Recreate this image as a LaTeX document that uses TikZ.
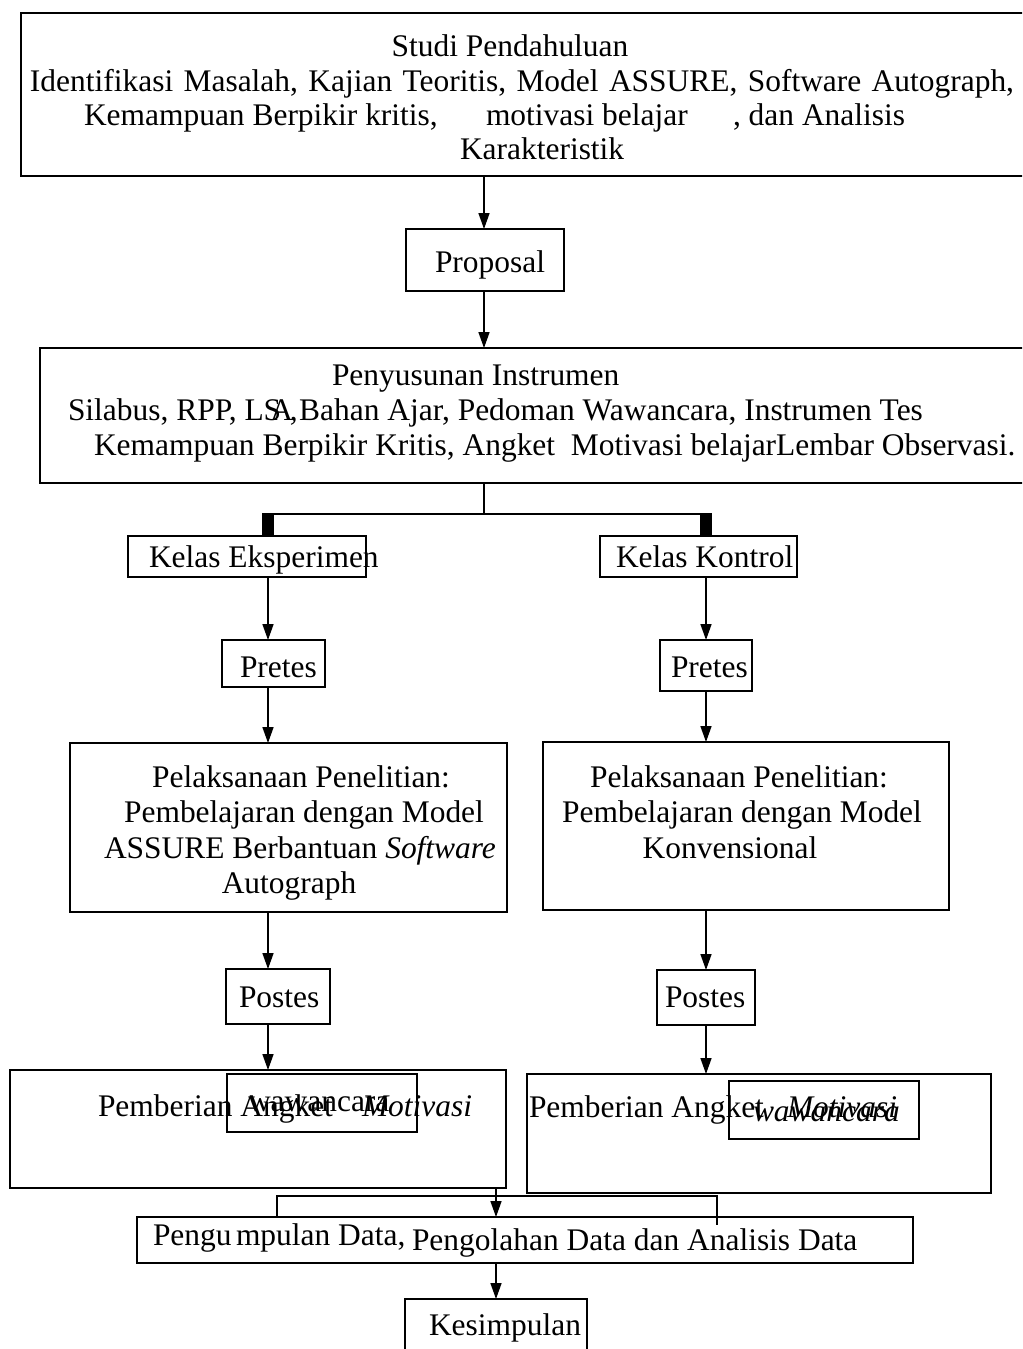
\documentclass[tikz,border=0pt]{standalone}
\usepackage{fontspec}
\setmainfont{Liberation Serif}
\usetikzlibrary{arrows.meta}
\newcommand\pxbox[5]{\node[box, minimum width=#4*0.02cm, minimum height=#5*0.02cm, anchor=north west] (#1) at (#2,#3) {};}
\begin{document}
\begin{tikzpicture}[x=0.02cm,y=-0.02cm,
  box/.style={draw, line width=1.2pt, rectangle, inner sep=0, outer sep=0},
  txt/.style={inner sep=0, outer sep=0, anchor=base west, font=\fontsize{17.9}{19}\selectfont},
  ctxt/.style={txt, anchor=base},
  arr/.style={line width=0.9pt, -{Triangle[length=0.32cm,width=0.22cm]}},
  ln/.style={line width=0.9pt},
  bar/.style={line width=0.25cm}]
\path[use as bounding box] (0,0) rectangle (1022,1349);
\clip (0,0) rectangle (1022,1349);

% boxes
\pxbox{studi}{21}{13}{1019}{163}
\pxbox{proposal}{406}{229}{158}{62}
\pxbox{susun}{40}{348}{1000}{135}
\pxbox{eks}{128}{536}{238}{41}
\pxbox{kon}{600}{536}{197}{41}
\pxbox{preA}{222}{640}{103}{47}
\pxbox{preB}{660}{640}{92}{51}
\pxbox{lakA}{70}{743}{437}{169}
\pxbox{lakB}{543}{742}{406}{168}
\pxbox{posA}{226}{969}{104}{55}
\pxbox{posB}{657}{970}{98}{55}
\pxbox{beriA}{10}{1070}{496}{118}
\pxbox{wawA}{227}{1074}{190}{58}
\pxbox{beriB}{527}{1074}{464}{119}
\pxbox{wawB}{729}{1081}{190}{58}
\pxbox{kumpul}{137}{1217}{776}{46}
\pxbox{simpul}{405}{1299}{182}{70}

% texts
\node[ctxt] (t1) at (510,56) {Studi Pendahuluan};
\node[txt] (t2) at (30,91) {\spaceskip=0.33em\relax Identifikasi Masalah, Kajian Teoritis, Model ASSURE, Software Autograph,};
\node[txt] (t3a) at (84,125) {Kemampuan Berpikir kritis,};
\node[txt] (t3b) at (486,125) {motivasi belajar};
\node[txt] (t3c) at (733,125) {, dan Analisis};
\node[txt] (t4) at (460,159) {Karakteristik};
\node[txt] (tp) at (435,272) {Proposal};
\node[txt] (s1) at (332,385) {Penyusunan Instrumen};
\node[txt] (s2) at (68,420) {Silabus, RPP, LS\kern-0.35em A\kern-0.1em,\kern-0.2em\ Bahan Ajar, Pedoman Wawancara, Instrumen Tes};
\node[txt] (s3) at (94,455) {Kemampuan Berpikir Kritis, Angket\ \ Motivasi belajarLembar Observasi.};
\node[txt] (te) at (149,567) {Kelas Eksperimen};
\node[txt] (tk) at (616,567) {Kelas Kontrol};
\node[txt] (tpa) at (240,677) {Pretes};
\node[txt] (tpb) at (671,677) {Pretes};
\node[ctxt] (la1) at (301,787) {Pelaksanaan Penelitian:};
\node[ctxt] (la2) at (304,822) {Pembelajaran dengan Model};
\node[txt] (la3) at (104,858) {ASSURE Berbantuan \textit{Software}};
\node[ctxt] (la4) at (289,893) {Autograph};
\node[ctxt] (lb1) at (739,787) {Pelaksanaan Penelitian:};
\node[ctxt] (lb2) at (742,822) {Pembelajaran dengan Model};
\node[ctxt] (lb3) at (730,858) {Konvensional};
\node[txt] (tqa) at (239,1007) {Postes};
\node[txt] (tqb) at (665,1007) {Postes};
\node[txt] (ba1) at (98,1116) {Pemberian Angket};
\node[txt] (ba2) at (362,1116) {\textit{Motivasi}};
\node[txt] (ba3) at (248,1111) {wawancara};
\node[txt] (bb1) at (529,1117) {Pemberian Angket};
\node[txt] (bb2) at (787,1117) {\textit{Motivasi}};
\node[txt] (bb3) at (753,1121) {\textit{wawancara}};
\node[txt] (k1) at (153,1245) {Pengu};
\node[txt] (k2) at (236,1245) {mpulan Data,};
\node[txt] (k3) at (412,1250) {Pengolahan Data dan Analisis Data};
\node[txt] (ks) at (429,1335) {Kesimpulan};

% connectors
\coordinate (jc) at (484,514);
\coordinate (jl) at (268,514);
\coordinate (jr) at (706,514);
\coordinate (bl) at (277,1196);
\coordinate (br) at (717,1196);

\draw[arr] (studi.south -| jc) -- (proposal.north -| jc);
\draw[arr] (proposal.south -| jc) -- (susun.north -| jc);
\draw[ln] (susun.south -| jc) -- (jc);
\draw[ln, line width=1.3pt] ([xshift=-0.12cm]jl) -- ([xshift=0.12cm]jr);
\draw[bar] (jl) -- (jl |- eks.north);
\draw[bar] (jr) -- (jr |- kon.north);

\draw[arr] (jl |- eks.south) -- (jl |- preA.north);
\draw[arr] (jl |- preA.south) -- (jl |- lakA.north);
\draw[arr] (jl |- lakA.south) -- (jl |- posA.north);
\draw[arr] (jl |- posA.south) -- (jl |- beriA.north);

\draw[arr] (jr |- kon.south) -- (jr |- preB.north);
\draw[arr] (jr |- preB.south) -- (jr |- lakB.north);
\draw[arr] (jr |- lakB.south) -- (jr |- posB.north);
\draw[arr] (jr |- posB.south) -- (jr |- beriB.north);

\draw[ln] (bl |- kumpul.north) -- (bl) -- (br) -- ([yshift=-0.16cm]br |- kumpul.north);
\draw[arr] (beriA.south -| simpul.north) -- (kumpul.north -| simpul.north);
\draw[arr] (kumpul.south -| simpul.north) -- (simpul.north);
\end{tikzpicture}
\end{document}
